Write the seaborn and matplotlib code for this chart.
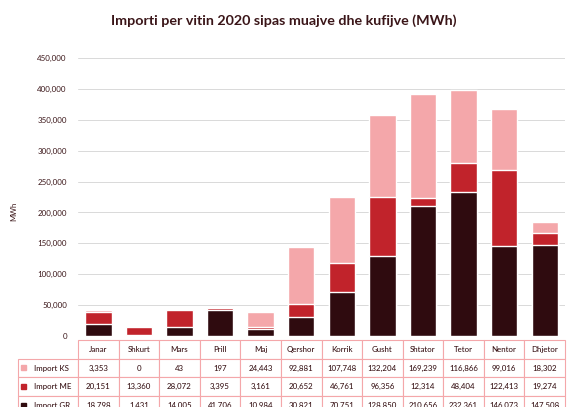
import matplotlib
matplotlib.use("Agg")
import matplotlib.pyplot as plt
import matplotlib.patches as mpatches
import numpy as np
import pandas as pd
import seaborn as sns

months = ['Janar', 'Shkurt', 'Mars', 'Prill', 'Maj', 'Qershor', 'Korrik',
          'Gusht', 'Shtator', 'Tetor', 'Nentor', 'Dhjetor']
import_ks = [3353, 0, 43, 197, 24443, 92881, 107748, 132204, 169239, 116866, 99016, 18302]
import_me = [20151, 13360, 28072, 3395, 3161, 20652, 46761, 96356, 12314, 48404, 122413, 19274]
import_gr = [18798, 1431, 14005, 41706, 10984, 30821, 70751, 128850, 210656, 232361, 146073, 147508]
series = ['Import KS', 'Import ME', 'Import GR']
colors = {'Import KS': '#f4a7aa', 'Import ME': '#c1232b', 'Import GR': '#2f0b0f'}
txt = '#3a1518'

df = pd.DataFrame({'month': months, 'Import KS': import_ks,
                   'Import ME': import_me, 'Import GR': import_gr})
df['gr'] = df['Import GR']
df['me'] = df['gr'] + df['Import ME']
df['ks'] = df['me'] + df['Import KS']

sns.set_style('white')
plt.rcParams['font.family'] = ['Lato', 'DejaVu Sans']

fig = plt.figure(figsize=(5.67, 4.07), dpi=100)
ax = fig.add_axes([0.1376, 0.1744, 0.8589, 0.6831])

# stacked bars drawn from the top of the stack down
for col, name in [('ks', 'Import KS'), ('me', 'Import ME'), ('gr', 'Import GR')]:
    sns.barplot(data=df, x='month', y=col, color=colors[name], saturation=1,
                width=0.65, ax=ax, order=months)

ax.set_ylim(0, 450000)
ax.set_xlim(-0.5, 11.5)
ax.set_yticks(np.arange(0, 450001, 50000))
ax.set_yticklabels([f'{v:,}' for v in range(0, 450001, 50000)], fontsize=5.7, color=txt)
ax.tick_params(axis='y', length=0, pad=8)
ax.set_xticks([])
ax.set_xlabel('')
ax.set_ylabel('')
ax.grid(axis='y', color='#d9d9d9', linewidth=0.7)
ax.set_axisbelow(True)
for s in ax.spines.values():
    s.set_visible(False)

fig.text(0.025, 0.48, 'MWh', rotation=90, fontsize=5.5, color=txt, ha='center', va='center')
fig.suptitle('Importi per vitin 2020 sipas muajve dhe kufijve (MWh)', y=0.965,
             fontsize=10.3, fontweight='bold', color=txt)

# data table below the bars
vals = {'Import KS': import_ks, 'Import ME': import_me, 'Import GR': import_gr}
cell_text = [[''] + months]
for name in series:
    cell_text.append(['     ' + name] + [f'{v:,}' for v in vals[name]])

col_w = [60] + [40.6] * 12
tbl = ax.table(cellText=cell_text, colWidths=[w / sum(col_w) for w in col_w],
               cellLoc='center', bbox=[-0.123, -0.284, 1.123, 0.27])
tbl.auto_set_font_size(False)
tbl.set_fontsize(5.7)
for (r, c), cell in tbl.get_celld().items():
    cell.set_edgecolor('#f4a7aa')
    cell.set_linewidth(0.8)
    cell.get_text().set_color(txt)
    cell.get_text().set_fontweight('medium')
    if c == 0:
        cell.get_text().set_ha('left')
        cell._loc = 'left'
    if r == 0 and c == 0:
        cell.visible_edges = ''

# legend keys in the row labels
for i, name in enumerate(series):
    ycen = 1 - (358 + 19 * i + 9.5) / 407
    fig.patches.append(mpatches.Rectangle((21 / 567, ycen - 2.5 / 407), 5 / 567, 5 / 407,
                                          transform=fig.transFigure, color=colors[name]))

fig.savefig('out.png', dpi=100)
